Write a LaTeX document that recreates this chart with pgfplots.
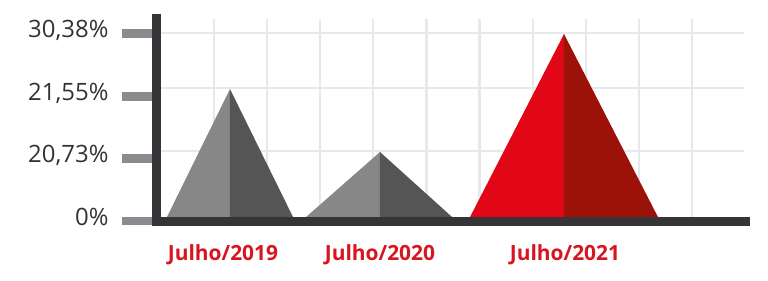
\documentclass[border=0pt]{standalone}
\usepackage{fontspec}
\setmainfont{Open Sans}
\usepackage{pgfplots}
\pgfplotsset{compat=1.18}
\definecolor{axisdark}{HTML}{353537}
\definecolor{tickgray}{HTML}{8B8B8F}
\definecolor{gridc}{HTML}{E6E8EB}
\definecolor{labdark}{HTML}{333333}
\definecolor{labred}{HTML}{D8151F}
\definecolor{grayL}{HTML}{878787}
\definecolor{grayD}{HTML}{555555}
\definecolor{redL}{HTML}{E10717}
\definecolor{redD}{HTML}{9C1208}
\begin{document}
\begin{tikzpicture}
\path[use as bounding box] (-157bp,-60bp) rectangle (611bp,221bp);
\begin{axis}[
  x=1bp, y=1bp, anchor=origin, at={(0,0)},
  xmin=157, xmax=745.5, ymin=0, ymax=202.75,
  axis x line*=bottom, axis y line*=left,
  axis line style={draw=none},
  clip=false,
  ytick={0,62.5,124.5,187.5},
  yticklabels={0\%,{20,73\%},{21,55\%},{30,38\%}},
  xtick={223,380,565},
  xticklabels={Julho/2019,Julho/2020,Julho/2021},
  x tick style={draw=none},
  y tick style={line width=8.5bp, color=tickgray, xshift=-4bp},
  tick align=outside,
  major tick length=31bp,
  yticklabel style={font=\fontsize{24}{24}\selectfont, text=labdark, anchor=base east, xshift=-14bp, yshift=-4bp},
  xticklabel style={font=\bfseries\fontsize{21}{21}\selectfont, text=labred, anchor=base, yshift=-8bp},
]
% grid
\pgfplotsinvokeforeach{214.1,267.2,320.3,373.4,426.5,479.6,532.7,585.8,638.9,692}{
  \addplot[gridc, line width=2.2bp, forget plot] coordinates {(#1,4) (#1,202)};
}
\pgfplotsinvokeforeach{188,133,70}{
  \addplot[gridc, line width=2.2bp, forget plot] coordinates {(161,#1) (744,#1)};
}
% triangles (left lighter half, right darker half)
\addplot[fill=grayL, draw=none] coordinates {(165,0) (230,132) (230,0)} -- cycle;
\addplot[fill=grayD, draw=none] coordinates {(230,0) (230,132) (295,0)} -- cycle;
\addplot[fill=grayL, draw=none] coordinates {(301.5,0) (380,69) (380,0)} -- cycle;
\addplot[fill=grayD, draw=none] coordinates {(380,0) (380,69) (456.5,0)} -- cycle;
\addplot[fill=redL, draw=none] coordinates {(468,0) (564,187) (564,0)} -- cycle;
\addplot[fill=redD, draw=none] coordinates {(564,0) (564,187) (660,0)} -- cycle;
% axis lines
\addplot[axisdark, line width=9bp, line cap=rect] coordinates {(157,202.75) (157,0) (745.5,0)};
\end{axis}
\end{tikzpicture}
\end{document}
